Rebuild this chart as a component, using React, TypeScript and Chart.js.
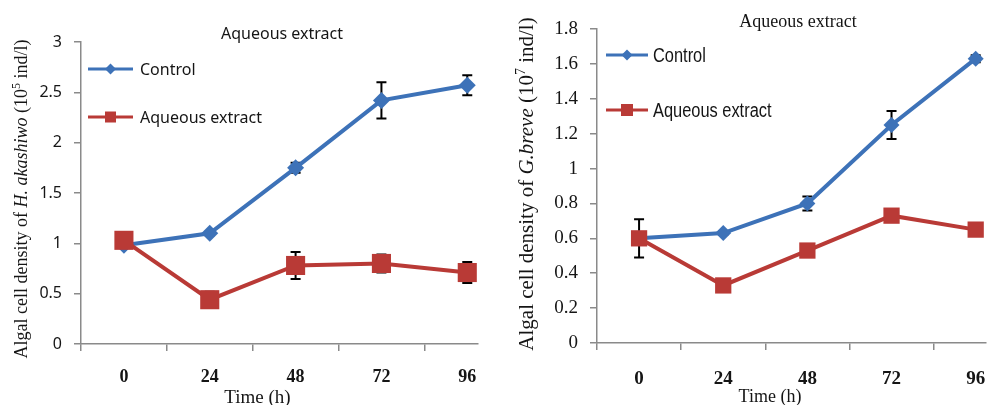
import React, { useEffect, useRef } from "react";
import { Chart, registerables } from "chart.js";
Chart.register(...registerables);

// ---------- data ----------
const hours = [0, 24, 48, 72, 96];
const xTickLabels = ["0", "24", "48", "72", "96"];
const seriesNames = ["Control", "Aqueous extract"];

// Left panel: H. akashiwo (10^5 ind/l)
const akaControl = [0.98, 1.1, 1.75, 2.42, 2.57];
const akaControlErr = [0.02, 0.02, 0.05, 0.18, 0.1];
const akaExtract = [1.03, 0.44, 0.78, 0.8, 0.71];
const akaExtractErr = [0.03, 0.08, 0.135, 0.09, 0.105];
const akaYTicks = [0, 0.5, 1, 1.5, 2, 2.5, 3];

// Right panel: G. breve (10^7 ind/l)
const breControl = [0.6, 0.63, 0.8, 1.25, 1.63];
const breControlErr = [0, 0.01, 0.04, 0.08, 0.02];
const breExtract = [0.6, 0.33, 0.53, 0.73, 0.65];
const breExtractErr = [0.11, 0.02, 0.02, 0.02, 0.02];
const breYTicks = [0, 0.2, 0.4, 0.6, 0.8, 1, 1.2, 1.4, 1.6, 1.8];

// ---------- styles ----------
const BLUE = "#3d72b8";
const RED = "#b93a36";
const AXIS = "#8a8a8a";
const TEXT = "#151515";

type Seg = { t: string; italic?: boolean; sup?: boolean };

const decorPlugin = {
  id: "decor",
  beforeDatasetsDraw(chart: any) {
    const ctx = chart.ctx;
    const xs = chart.scales.x;
    const ys = chart.scales.y;
    chart.data.datasets.forEach((ds: any) => {
      const errs: number[] = ds.errors;
      if (!errs) return;
      ctx.save();
      ctx.strokeStyle = "#000";
      ctx.lineWidth = 2;
      ds.data.forEach((p: any, j: number) => {
        const e = errs[j];
        if (!e) return;
        const x = xs.getPixelForValue(p.x);
        const y1 = ys.getPixelForValue(p.y + e);
        const y2 = ys.getPixelForValue(p.y - e);
        ctx.beginPath();
        ctx.moveTo(x, y1);
        ctx.lineTo(x, y2);
        ctx.moveTo(x - 5, y1);
        ctx.lineTo(x + 5, y1);
        ctx.moveTo(x - 5, y2);
        ctx.lineTo(x + 5, y2);
        ctx.stroke();
      });
      ctx.restore();
    });
  },
  afterDraw(chart: any, _args: any, o: any) {
    const ctx = chart.ctx;
    ctx.save();
    ctx.fillStyle = TEXT;
    ctx.textBaseline = "middle";
    ctx.textAlign = "center";
    // title
    ctx.font = o.titleFont;
    ctx.fillText(o.title, o.titleX, o.titleY);
    // x title
    ctx.font = o.xTitleFont;
    ctx.fillText(o.xTitle, o.xTitleX, o.xTitleY);
    // y title (rotated, mixed styles)
    const segs: Seg[] = o.yTitle;
    const size = o.yTitleSize;
    const fam = o.yTitleFamily;
    const fontFor = (s: Seg) =>
      `${s.italic ? "italic " : ""}${s.sup ? Math.round(size * 0.65) : size}px ${fam}`;
    let total = 0;
    segs.forEach((s) => {
      ctx.font = fontFor(s);
      total += ctx.measureText(s.t).width;
    });
    ctx.translate(o.yTitleX, o.yTitleY);
    ctx.rotate(-Math.PI / 2);
    ctx.textAlign = "left";
    let cx = -total / 2;
    segs.forEach((s) => {
      ctx.font = fontFor(s);
      ctx.fillText(s.t, cx, s.sup ? -size * 0.3 : 0);
      cx += ctx.measureText(s.t).width;
    });
    ctx.setTransform(1, 0, 0, 1, 0, 0);
    // legend
    const lg = o.legend;
    chart.data.datasets.forEach((ds: any, i: number) => {
      const y = lg.rows[i];
      ctx.strokeStyle = ds.borderColor;
      ctx.lineWidth = 3;
      ctx.beginPath();
      ctx.moveTo(lg.x1, y);
      ctx.lineTo(lg.x2, y);
      ctx.stroke();
      ctx.fillStyle = ds.borderColor;
      const mx = (lg.x1 + lg.x2) / 2;
      if (ds.pointStyle === "rectRot") {
        const r = lg.diamond;
        ctx.beginPath();
        ctx.moveTo(mx, y - r);
        ctx.lineTo(mx + r, y);
        ctx.lineTo(mx, y + r);
        ctx.lineTo(mx - r, y);
        ctx.closePath();
        ctx.fill();
      } else {
        const h = lg.square / 2;
        ctx.fillRect(mx - h, y - h, 2 * h, 2 * h);
      }
      ctx.fillStyle = TEXT;
      ctx.font = lg.font;
      ctx.textAlign = "left";
      ctx.save();
      ctx.translate(lg.textX, y + 1);
      ctx.scale(lg.squeeze, 1);
      ctx.fillText(ds.label, 0, 0);
      ctx.restore();
    });
    ctx.restore();
  },
};

function makeConfig(p: any) {
  const tickPositions = [...hours.map((h) => h - 12), ...hours].sort((a, b) => a - b);
  return {
    type: "line",
    data: {
      datasets: [
        {
          label: seriesNames[0],
          data: hours.map((h, i) => ({ x: h, y: p.control[i] })),
          errors: p.controlErr,
          borderColor: BLUE,
          backgroundColor: BLUE,
          borderWidth: 4,
          pointStyle: "rectRot",
          pointRadius: p.diamondR,
          pointBorderWidth: 0,
          order: 1,
          clip: false,
        },
        {
          label: seriesNames[1],
          data: hours.map((h, i) => ({ x: h, y: p.extract[i] })),
          errors: p.extractErr,
          borderColor: RED,
          backgroundColor: RED,
          borderWidth: 4,
          pointStyle: "rect",
          pointRadius: p.squareR,
          pointBorderWidth: 0,
          order: 0,
          clip: false,
        },
      ],
    },
    options: {
      animation: false,
      responsive: false,
      events: [],
      layout: { padding: p.padding },
      plugins: {
        legend: { display: false },
        title: { display: false },
        tooltip: { enabled: false },
        decor: p.decor,
      },
      scales: {
        x: {
          type: "linear",
          min: -12,
          max: p.xMax,
          afterBuildTicks: (s: any) => {
            s.ticks = tickPositions.map((v) => ({ value: v }));
          },
          afterFit: (s: any) => {
            s.height = p.xHeight;
            s.paddingLeft = 0;
            s.paddingRight = 0;
          },
          border: { display: true, color: AXIS, width: 1.5 },
          grid: {
            drawOnChartArea: false,
            drawTicks: true,
            tickLength: 7,
            lineWidth: 1.5,
            color: (c: any) =>
              c.tick && hours.includes(c.tick.value) ? "rgba(0,0,0,0)" : AXIS,
          },
          ticks: {
            autoSkip: false,
            maxRotation: 0,
            padding: p.xTickPad,
            color: TEXT,
            font: p.xTickFont,
            callback: (v: number) => {
              const i = hours.indexOf(v);
              return i >= 0 ? xTickLabels[i] : "";
            },
          },
        },
        y: {
          type: "linear",
          min: p.yTicks[0],
          max: p.yTicks[p.yTicks.length - 1],
          afterBuildTicks: (s: any) => {
            s.ticks = p.yTicks.map((v: number) => ({ value: v }));
          },
          afterFit: (s: any) => {
            s.width = p.yWidth;
            s.paddingTop = 0;
            s.paddingBottom = 0;
          },
          border: { display: true, color: AXIS, width: 1.5 },
          grid: {
            drawOnChartArea: false,
            drawTicks: true,
            tickLength: 7,
            lineWidth: 1.5,
            color: AXIS,
          },
          ticks: {
            padding: 12,
            color: TEXT,
            font: p.yTickFont,
            callback: (v: number) => String(+Number(v).toFixed(1)),
          },
        },
      },
    },
    plugins: [decorPlugin],
  };
}

const leftSpec = {
  control: akaControl,
  controlErr: akaControlErr,
  extract: akaExtract,
  extractErr: akaExtractErr,
  yTicks: akaYTicks,
  xMax: 99,
  padding: { top: 42, left: 0, right: 22, bottom: 0 },
  xHeight: 61,
  yWidth: 81,
  xTickPad: 16,
  diamondR: 8.5,
  squareR: 13.5,
  xTickFont: { family: "Liberation Serif", size: 18, weight: "bold" },
  yTickFont: { family: "Noto Sans", size: 16 },
  decor: {
    title: "Aqueous extract",
    titleFont: '16px "Noto Sans"',
    titleX: 282,
    titleY: 34,
    xTitle: "Time (h)",
    xTitleFont: '19px "Liberation Serif"',
    xTitleX: 257.5,
    xTitleY: 398,
    yTitle: [
      { t: "Algal cell density of " },
      { t: "H. akashiwo", italic: true },
      { t: " (10" },
      { t: "5", sup: true },
      { t: " ind/l)" },
    ],
    yTitleSize: 18,
    yTitleFamily: '"Liberation Serif"',
    yTitleX: 22,
    yTitleY: 199,
    legend: {
      x1: 88,
      x2: 133,
      rows: [69, 117],
      textX: 140,
      font: '16px "Noto Sans"',
      squeeze: 1,
      diamond: 5.5,
      square: 11,
    },
  },
};

const rightSpec = {
  control: breControl,
  controlErr: breControlErr,
  extract: breExtract,
  extractErr: breExtractErr,
  yTicks: breYTicks,
  xMax: 98.8,
  padding: { top: 29, left: 0, right: 0, bottom: 0 },
  xHeight: 62,
  yWidth: 97,
  xTickPad: 18,
  diamondR: 8,
  squareR: 11.5,
  xTickFont: { family: "Liberation Serif", size: 19, weight: "bold" },
  yTickFont: { family: "Liberation Serif", size: 19 },
  decor: {
    title: "Aqueous extract",
    titleFont: '18px "Liberation Serif"',
    titleX: 298,
    titleY: 22,
    xTitle: "Time (h)",
    xTitleFont: '18px "Liberation Serif"',
    xTitleX: 270,
    xTitleY: 397,
    yTitle: [
      { t: "Algal cell density of " },
      { t: "G.breve", italic: true },
      { t: " (10" },
      { t: "7", sup: true },
      { t: " ind/l)" },
    ],
    yTitleSize: 21,
    yTitleFamily: '"Liberation Serif"',
    yTitleX: 27.5,
    yTitleY: 184,
    legend: {
      x1: 106,
      x2: 148,
      rows: [55, 110],
      textX: 153,
      font: '20px "Liberation Sans", sans-serif',
      squeeze: 0.82,
      diamond: 5.5,
      square: 12,
    },
  },
};

function Panel({ spec, left, width }: { spec: any; left: number; width: number }) {
  const ref = useRef<HTMLCanvasElement | null>(null);
  useEffect(() => {
    if (!ref.current) return;
    const chart = new Chart(ref.current, makeConfig(spec) as any);
    return () => chart.destroy();
  }, [spec]);
  return (
    <div style={{ position: "absolute", left, top: 0, width, height: 405 }}>
      <canvas ref={ref} width={width} height={405} style={{ display: "block" }} />
    </div>
  );
}

export default function App() {
  return (
    <div
      style={{
        position: "absolute",
        left: 0,
        top: 0,
        width: 997,
        height: 405,
        background: "#fff",
        overflow: "hidden",
      }}
    >
      <Panel spec={leftSpec} left={0} width={500} />
      <Panel spec={rightSpec} left={500} width={497} />
    </div>
  );
}
